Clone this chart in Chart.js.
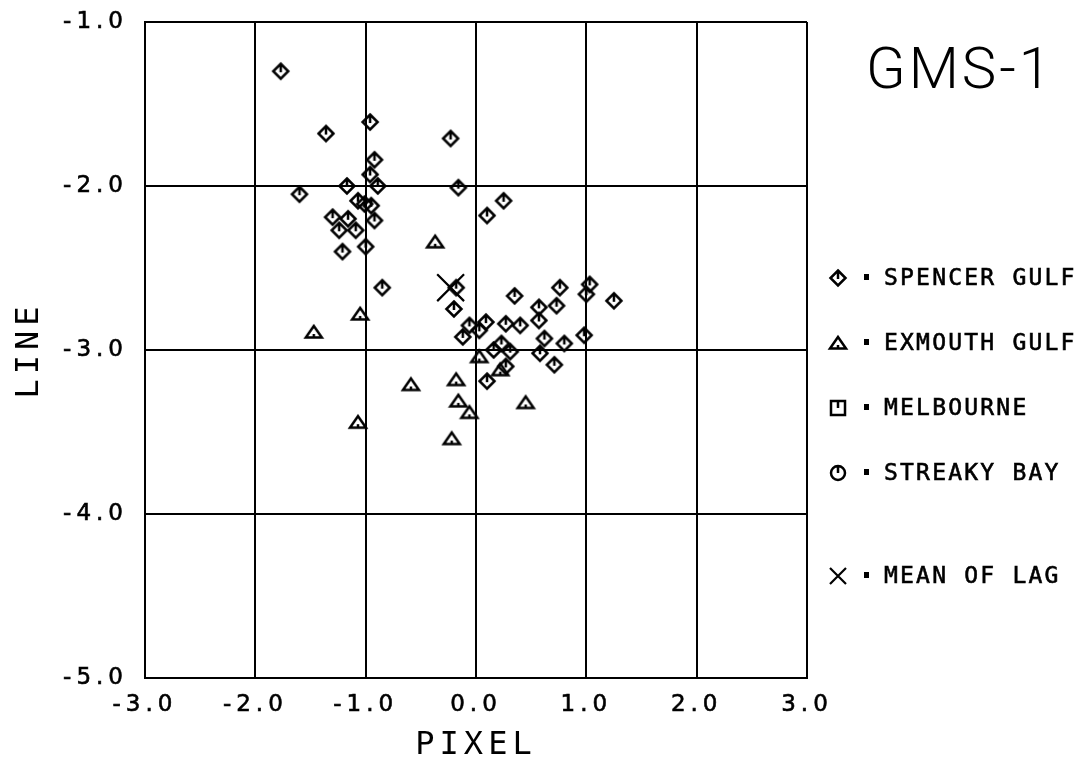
<!DOCTYPE html>
<html>
<head>
<meta charset="utf-8">
<script src="https://cdn.jsdelivr.net/npm/chart.js@4/dist/chart.umd.min.js"></script>
<style>
  body { margin: 0; background: #fff; }
  canvas { display: block; }
</style>
</head>
<body>
<canvas id="myChart" width="1083" height="762"></canvas>
<script>
"use strict";
// valeurs
const spencerX = [-1.77, -1.36, -0.96, -0.23, -0.92, -0.96, -1.17, -0.89, -0.16, -1.60,
  -1.07, -1.01, -0.95, 0.10, -1.30, -1.16, -0.92, -1.24, -1.09, -1.21,
  -1.00, 0.25, -0.85, -0.18, -0.20, -0.06, -0.12, 0.03, 0.09, 0.10,
  0.35, 0.76, 1.03, 1.00, 1.25, 0.57, 0.73, 0.57, 0.27, 0.40,
  0.62, 0.80, 0.98, 0.23, 0.16, 0.31, 0.58, 0.27, 0.71];
const spencerY = [-1.30, -1.68, -1.61, -1.71, -1.84, -1.93, -2.00, -2.00, -2.01, -2.05,
  -2.09, -2.11, -2.12, -2.18, -2.19, -2.20, -2.21, -2.27, -2.27, -2.40,
  -2.37, -2.09, -2.62, -2.62, -2.75, -2.85, -2.92, -2.88, -2.83, -3.19,
  -2.67, -2.62, -2.60, -2.66, -2.70, -2.74, -2.73, -2.82, -2.84, -2.85,
  -2.93, -2.96, -2.91, -2.96, -3.00, -3.01, -3.02, -3.10, -3.09];
const exmouthX = [-0.37, -1.05, -1.47, 0.03, -0.59, -0.18, -0.16, -0.06, -1.07, -0.22, 0.22, 0.45];
const exmouthY = [-2.34, -2.78, -2.89, -3.04, -3.21, -3.18, -3.31, -3.38, -3.44, -3.54, -3.12, -3.32];
const melbourneX = [];
const melbourneY = [];
const streakyX = [];
const streakyY = [];
const meanX = [-0.23];
const meanY = [-2.62];

const xTicks = [-3, -2, -1, 0, 1, 2, 3];
const yTicks = [-5, -4, -3, -2, -1];
const titleText = "GMS-1";

const toPoints = (xs, ys) => xs.map((x, i) => ({ x: x, y: ys[i] }));

// petits symboles dessines a la main (comme le traceur)
function makeMarker(kind) {
  const c = document.createElement("canvas");
  c.width = 22; c.height = 22;
  const g = c.getContext("2d");
  const m = 11;
  g.strokeStyle = "#000";
  g.lineWidth = 2.5;
  g.lineJoin = "miter";
  g.beginPath();
  if (kind === "diamond") {
    g.moveTo(m, m - 7.5); g.lineTo(m + 7.5, m); g.lineTo(m, m + 7.5); g.lineTo(m - 7.5, m); g.closePath();
    g.moveTo(m, m - 7); g.lineTo(m, m + 1);
  } else if (kind === "triangle") {
    g.moveTo(m, m - 6); g.lineTo(m + 8, m + 5.5); g.lineTo(m - 8, m + 5.5); g.closePath();
    g.moveTo(m, m + 5.5); g.lineTo(m, m + 2);
  } else if (kind === "square") {
    g.rect(m - 7, m - 7, 14, 14);
    g.moveTo(m, m - 7); g.lineTo(m, m);
  } else if (kind === "circle") {
    g.arc(m, m, 7, 0, Math.PI * 2);
    g.moveTo(m, m - 7); g.lineTo(m, m);
  }
  g.stroke();
  return c;
}
const markers = {
  diamond: makeMarker("diamond"),
  triangle: makeMarker("triangle"),
  square: makeMarker("square"),
  circle: makeMarker("circle")
};

const tickFont = { family: "DejaVu Sans", size: 23 };
const axisFont = { family: "DejaVu Sans Mono", size: 32, lineHeight: 1 };

// espacement des lettres + titre + legende a droite
const plotterPlugin = {
  id: "plotter",
  beforeDraw(chart) {
    chart.ctx.letterSpacing = "5px";
  },
  afterDraw(chart) {
    const ctx = chart.ctx;
    ctx.save();
    ctx.fillStyle = "#000";
    ctx.strokeStyle = "#000";
    // titre
    ctx.letterSpacing = "3px";
    ctx.font = "300 58px Roboto, 'DejaVu Sans'";
    ctx.textBaseline = "middle";
    ctx.textAlign = "left";
    ctx.fillText(titleText, 866, 73);
    // legende
    ctx.letterSpacing = "2.2px";
    ctx.font = "23px 'DejaVu Sans Mono'";
    ctx.lineWidth = 0.6;
    const rows = [278, 343, 408, 473, 576];
    chart.data.datasets.forEach((ds, i) => {
      const y = rows[i];
      if (ds.legendMarker === "cross") {
        ctx.lineWidth = 2.2;
        ctx.beginPath();
        ctx.moveTo(830, y - 8); ctx.lineTo(846, y + 8);
        ctx.moveTo(846, y - 8); ctx.lineTo(830, y + 8);
        ctx.stroke();
        ctx.lineWidth = 0.6;
      } else {
        ctx.drawImage(markers[ds.legendMarker], 827, y - 11);
      }
      ctx.fillRect(864, y - 4, 5, 6);
      ctx.fillText(ds.label, 884, y + 1);
      ctx.strokeText(ds.label, 884, y + 1);
    });
    ctx.restore();
  }
};

const config = {
  type: "scatter",
  data: {
    datasets: [
      { label: "SPENCER GULF", data: toPoints(spencerX, spencerY), pointStyle: markers.diamond, legendMarker: "diamond" },
      { label: "EXMOUTH GULF", data: toPoints(exmouthX, exmouthY), pointStyle: markers.triangle, legendMarker: "triangle" },
      { label: "MELBOURNE", data: toPoints(melbourneX, melbourneY), pointStyle: markers.square, legendMarker: "square" },
      { label: "STREAKY BAY", data: toPoints(streakyX, streakyY), pointStyle: markers.circle, legendMarker: "circle" },
      { label: "MEAN OF LAG", data: toPoints(meanX, meanY), pointStyle: "crossRot", pointRadius: 19,
        borderColor: "#000", borderWidth: 2.2, legendMarker: "cross" }
    ]
  },
  options: {
    responsive: false,
    animation: false,
    layout: { padding: { top: 22, right: 276, bottom: 0, left: 0 } },
    plugins: { legend: { display: false }, tooltip: { enabled: false } },
    scales: {
      x: {
        type: "linear",
        min: -3, max: 3,
        afterBuildTicks: (scale) => { scale.ticks = xTicks.map(v => ({ value: v })); },
        afterFit: (scale) => {
          scale.height = 84;
          scale.paddingLeft = 0; scale.paddingRight = 0;
        },
        ticks: { callback: (v) => Number(v).toFixed(1), font: tickFont, color: "#000", padding: 13,
          maxRotation: 0, autoSkip: false, textStrokeColor: "#000", textStrokeWidth: 0.6 },
        grid: { color: "#000", lineWidth: 2, drawTicks: false },
        border: { color: "#000", width: 2 },
        title: { display: true, text: "PIXEL", font: axisFont, color: "#000", padding: { top: 0, bottom: 0 } }
      },
      y: {
        type: "linear",
        min: -5, max: -1,
        afterBuildTicks: (scale) => { scale.ticks = yTicks.map(v => ({ value: v })); },
        afterFit: (scale) => {
          scale.width = 145;
          scale.paddingTop = 0; scale.paddingBottom = 0;
        },
        ticks: { callback: (v) => Number(v).toFixed(1), font: tickFont, color: "#000", padding: 17,
          autoSkip: false, textStrokeColor: "#000", textStrokeWidth: 0.6 },
        grid: { color: "#000", lineWidth: 2, drawTicks: false },
        border: { color: "#000", width: 2 },
        title: { display: true, text: "LINE", font: axisFont, color: "#000", padding: { top: 14, bottom: 0 } }
      }
    }
  },
  plugins: [plotterPlugin]
};

const ctx = document.getElementById("myChart").getContext("2d");
const myChart = new Chart(ctx, config);
</script>
</body>
</html>
